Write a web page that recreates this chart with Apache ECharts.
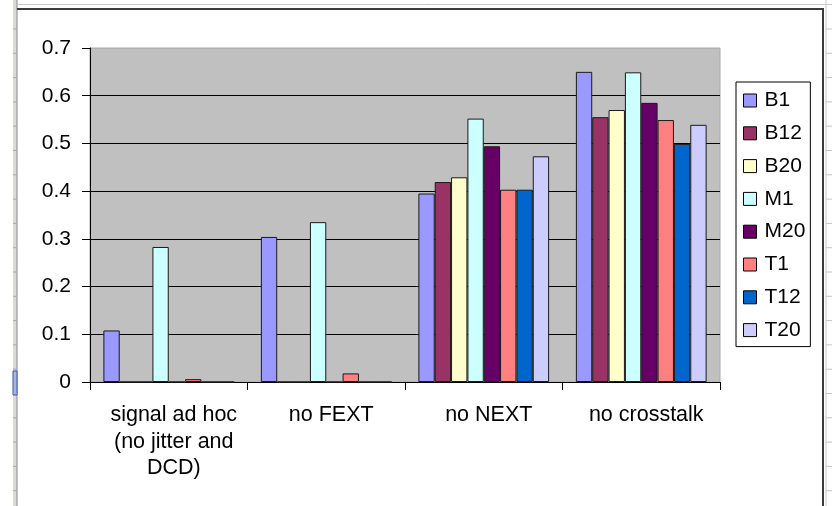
<!DOCTYPE html>
<html>
<head>
<meta charset="utf-8">
<title>Crosstalk comparison</title>
<script src="https://cdn.jsdelivr.net/npm/echarts@6/dist/echarts.min.js"></script>
<style>
  html, body { margin: 0; padding: 0; background: #ffffff; }
  #chart { width: 832px; height: 506px; }
</style>
</head>
<body>
<div id="chart"></div>
<script>
// Scenario groups along the x axis
const categories = ['signal ad hoc\n(no jitter and\nDCD)', 'no FEXT', 'no NEXT', 'no crosstalk'];

// One value per scenario for each link
const seriesNames = ['B1', 'B12', 'B20', 'M1', 'M20', 'T1', 'T12', 'T20'];
const B1  = [0.108, 0.304, 0.395, 0.650];
const B12 = [0, 0, 0.419, 0.555];
const B20 = [0, 0, 0.429, 0.570];
const M1  = [0.283, 0.335, 0.552, 0.649];
const M20 = [0, 0, 0.494, 0.585];
const T1  = [0.006, 0.018, 0.403, 0.549];
const T12 = [0, 0, 0.403, 0.499];
const T20 = [0, 0, 0.473, 0.539];
const seriesValues = [B1, B12, B20, M1, M20, T1, T12, T20];

// Value axis ticks
const yTickLabels = ['0', '0.1', '0.2', '0.3', '0.4', '0.5', '0.6', '0.7'];
const yMin = 0, yMax = 0.7, yStep = 0.1;

// Classic spreadsheet palette
const colors = ['#9999FF', '#993366', '#FFFFCC', '#CCFFFF', '#660066', '#FF8080', '#0066CC', '#CCCCFF'];

const FONT = '"Liberation Sans", Arial, sans-serif';

// Spreadsheet row-grid ticks on both edges
const rowTicks = [];
for (let y = 29; y < 506; y += 24.3) {
  rowTicks.push({ type: 'line', shape: { x1: 13, y1: y, x2: 17, y2: y }, style: { stroke: '#a8a8a8', lineWidth: 1 }, silent: true });
  rowTicks.push({ type: 'line', shape: { x1: 826, y1: y, x2: 832, y2: y }, style: { stroke: '#c4c4c4', lineWidth: 1 }, silent: true });
}

const chart = echarts.init(document.getElementById('chart'), null, { renderer: 'canvas' });

chart.setOption({
  animation: false,
  backgroundColor: '#ffffff',
  textStyle: { fontFamily: FONT },
  color: colors,
  grid: {
    left: 90, right: 112, top: 48, bottom: 124,
    show: true, backgroundColor: '#c0c0c0', borderColor: '#a8a8a8', borderWidth: 1
  },
  legend: {
    orient: 'vertical',
    left: 736, top: 82,
    padding: [8, 5, 6, 7],
    borderColor: '#000', borderWidth: 1,
    backgroundColor: '#ffffff',
    itemWidth: 13, itemHeight: 13, itemGap: 11.8,
    icon: 'rect',
    itemStyle: { borderColor: '#000', borderWidth: 1 },
    textStyle: { fontFamily: FONT, fontSize: 21, lineHeight: 21, color: '#000', padding: [0, 0, 0, 3] },
    data: seriesNames
  },
  xAxis: {
    type: 'category',
    data: categories,
    axisLine: { lineStyle: { color: '#000', width: 1 } },
    axisTick: { show: true, length: 8, lineStyle: { color: '#000' } },
    axisLabel: { fontFamily: FONT, fontSize: 21.5, lineHeight: 26.5, color: '#000', margin: 20, interval: 0, padding: [0, 0, 0, 10] },
    splitLine: { show: false }
  },
  yAxis: {
    type: 'value',
    min: yMin, max: yMax, interval: yStep,
    axisLine: { show: true, lineStyle: { color: '#000', width: 1 } },
    axisTick: { show: true, length: 8, lineStyle: { color: '#000' } },
    axisLabel: {
      fontFamily: FONT, fontSize: 21, color: '#000', margin: 19,
      formatter: function (v) { return yTickLabels[Math.round((v - yMin) / yStep)]; }
    },
    splitLine: { show: true, lineStyle: { color: ['#000', '#000', '#000', '#000', '#000', '#000', '#000', '#b0b0b0'], width: 1 } }
  },
  series: seriesNames.map(function (name, i) {
    return {
      name: name,
      type: 'bar',
      data: seriesValues[i],
      barGap: '0%',
      barCategoryGap: '17%',
      itemStyle: { color: colors[i], borderColor: '#1a1a1a', borderWidth: 1 }
    };
  }),
  graphic: [
    // row header strip on the left
    { type: 'rect', shape: { x: 13, y: 0, width: 4, height: 506 }, style: { fill: '#dcdad2' }, silent: true },
    { type: 'line', shape: { x1: 17, y1: 0, x2: 17, y2: 506 }, style: { stroke: '#8a8a8a', lineWidth: 1 }, silent: true },
    { type: 'rect', shape: { x: 13, y: 371, width: 4, height: 24 }, style: { fill: '#aab6dc', stroke: '#3a56a8', lineWidth: 1 }, silent: true },
    // column boundary above the chart area
    { type: 'line', shape: { x1: 17, y1: 4.5, x2: 832, y2: 4.5 }, style: { stroke: '#c8c8c8', lineWidth: 1 }, silent: true },
    { type: 'line', shape: { x1: 826, y1: 0, x2: 826, y2: 506 }, style: { stroke: '#c8c8c8', lineWidth: 1 }, silent: true },
    // chart area frame
    { type: 'line', shape: { x1: 17, y1: 9, x2: 823, y2: 9 }, style: { stroke: '#3c3c3c', lineWidth: 2 }, silent: true },
    { type: 'line', shape: { x1: 823, y1: 8, x2: 823, y2: 506 }, style: { stroke: '#3c3c3c', lineWidth: 2 }, silent: true }
  ].concat(rowTicks)
});
</script>
</body>
</html>
